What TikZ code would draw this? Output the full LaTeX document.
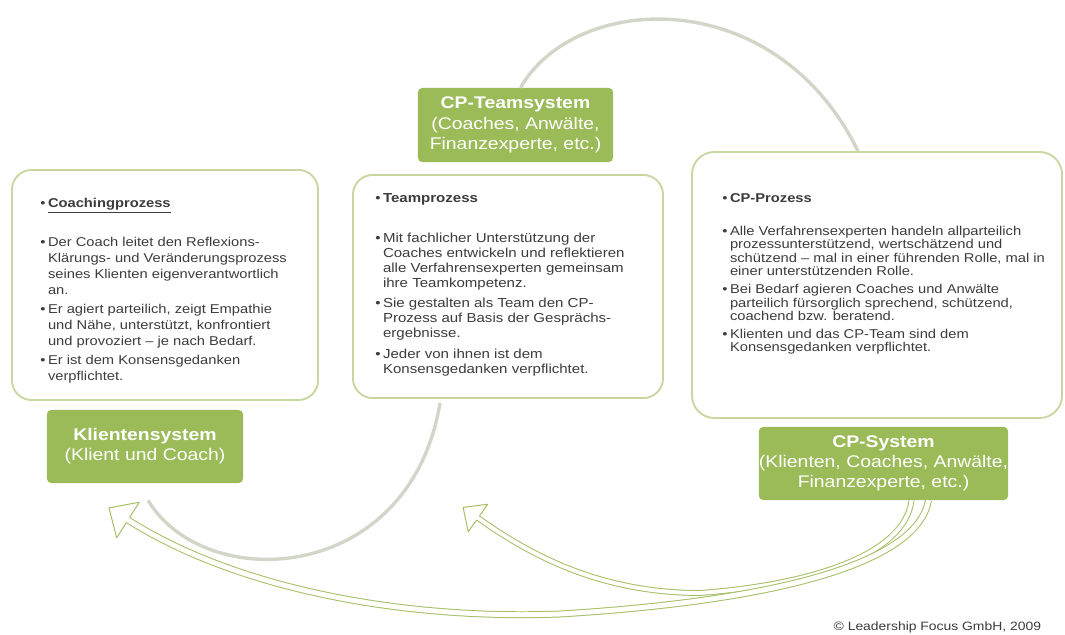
\documentclass[tikz,border=0pt]{standalone}
\usepackage{fontspec}
\setmainfont{Liberation Sans}[FakeStretch=1.15]
\usetikzlibrary{calc,decorations.markings}

\definecolor{cpgreen}{HTML}{9BBB59}
\definecolor{boxline}{HTML}{C6D79F}
\definecolor{arcgray}{HTML}{D2D6C8}
\definecolor{arrowline}{HTML}{A3BF63}
\definecolor{bodygray}{HTML}{3C3C3C}

\newcommand{\bu}{\makebox[5.5pt][l]{\textbullet}}
\newcommand{\ii}{\hspace*{5.5pt}}

\tikzset{
  procbox/.style={draw=boxline, line width=1.3pt, fill=white, rounded corners=14pt, inner sep=0pt},
  sysbox/.style={fill=cpgreen, rounded corners=3pt, text=white, align=center,
    font=\fontsize{12}{14.4}\selectfont, inner sep=0pt},
  bodytext/.style={anchor=north west, align=left, inner sep=0pt, text=bodygray,
    font=\fontsize{9.1}{11.4}\selectfont},
  grayarc/.style={draw=arcgray, line width=2.4pt},
  hollowarrow/.style n args={4}{draw=arrowline, line width=0.7pt, double=white, double distance=#1pt,
    postaction={decorate}, decoration={markings, mark=at position 1 with {
      \fill[white] (0pt,#3pt) -- (#2pt,0pt) -- (0pt,-#3pt) -- cycle;
      \draw[arrowline, line width=0.7pt, line join=round] (0pt,#4pt) -- (0pt,#3pt) -- (#2pt,0pt) -- (0pt,-#3pt) -- (0pt,-#4pt);
    }}}
}

\begin{document}
\begin{tikzpicture}[x=0.025cm, y=-0.025cm]
  \fill[white] (0,0) rectangle (1065,635);
  \useasboundingbox (0,0) rectangle (1065,635);

  % the three processes
  \node[procbox, minimum width=7.65cm, minimum height=5.75cm] (coachproc) at (165,285) {};
  \node[procbox, minimum width=7.75cm, minimum height=5.575cm] (teamproc) at (508,286.5) {};
  \node[procbox, rounded corners=16pt, minimum width=9.25cm, minimum height=6.65cm] (cpproc) at (877,285) {};

  \node[bodytext] (coachtext) at (40,198) {\bu\textbf{\underline{Coachingprozess}}\\[16.2pt]
    \bu Der Coach leitet den Reflexions-\\
    \ii Klärungs- und Veränderungsprozess\\
    \ii seines Klienten eigenverantwortlich\\
    \ii an.\\[2.1pt]
    \bu Er agiert parteilich, zeigt Empathie\\
    \ii und Nähe, unterstützt, konfrontiert\\
    \ii und provoziert – je nach Bedarf.\\[2.1pt]
    \bu Er ist dem Konsensgedanken\\
    \ii verpflichtet.};

  \node[bodytext, font=\fontsize{9.3}{10.8}\selectfont] (teamtext) at (375,193) {\bu\textbf{Teamprozess}\\[17.6pt]
    \bu Mit fachlicher Unterstützung der\\
    \ii Coaches entwickeln und reflektieren\\
    \ii alle Verfahrensexperten gemeinsam\\
    \ii ihre Teamkompetenz.\\[3pt]
    \bu Sie gestalten als Team den CP-\\
    \ii Prozess auf Basis der Gesprächs-\\
    \ii ergebnisse.\\[4pt]
    \bu Jeder von ihnen ist dem\\
    \ii Konsensgedanken verpflichtet.};

  \node[bodytext, font=\fontsize{9.1}{9.6}\selectfont] (cptext) at (722,193) {\bu\textbf{CP-Prozess}\\[14pt]
    \bu Alle Verfahrensexperten handeln allparteilich\\
    \ii prozessunterstützend, wertschätzend und\\
    \ii schützend – mal in einer führenden Rolle, mal in\\
    \ii einer unterstützenden Rolle.\\[3pt]
    \bu Bei Bedarf agieren Coaches und Anwälte\\
    \ii parteilich fürsorglich sprechend, schützend,\\
    \ii coachend bzw. beratend.\\[3pt]
    \bu Klienten und das CP-Team sind dem\\
    \ii Konsensgedanken verpflichtet.};

  % the three systems
  \node[sysbox, minimum width=4.875cm, minimum height=1.85cm] (teamsys) at (515.5,125)
    {\textbf{CP-Teamsystem}\\(Coaches, Anwälte,\\Finanzexperte, etc.)};
  \node[sysbox, minimum width=4.9cm, minimum height=1.825cm] (kliensys) at (145,446.5)
    {\textbf{Klientensystem}\\(Klient und Coach)};
  \node[sysbox, minimum width=6.175cm, minimum height=1.825cm] (cpsys) at (883.5,463.5)
    {\textbf{CP-System}\\(Klienten, Coaches, Anwälte,\\Finanzexperte, etc.)};

  \draw[grayarc] ($(teamsys.north)+(5,0)$) .. controls (575,-8) and (775,-18) .. ($(cpproc.north)+(-19,0)$);
  \draw[grayarc] ($(kliensys.south)+(3,17)$) .. controls (205,595) and (410,585) .. ($(teamproc.south)+(-68,4)$);

  \coordinate (innerend) at (478,518);
  \coordinate (outerend) at (128,520);
  \draw[hollowarrow={2.8}{13}{12}{1.75}] ($(cpsys.south)+(28,0)$) .. controls (905,555) and (810,585) .. (700,593)
    .. controls (600,593) and (530,555) .. (innerend);
  \draw[hollowarrow={3.5}{16}{15}{2.1}] ($(cpsys.south)+(45,0)$) .. controls (918,560) and (790,600) .. (560,614)
    .. controls (400,620) and (235,588) .. (outerend);

  \node[anchor=east, text=bodygray, font=\fontsize{8.6}{10}\selectfont] (copyright) at (1046,627)
    {© Leadership Focus GmbH, 2009};
\end{tikzpicture}
\end{document}
